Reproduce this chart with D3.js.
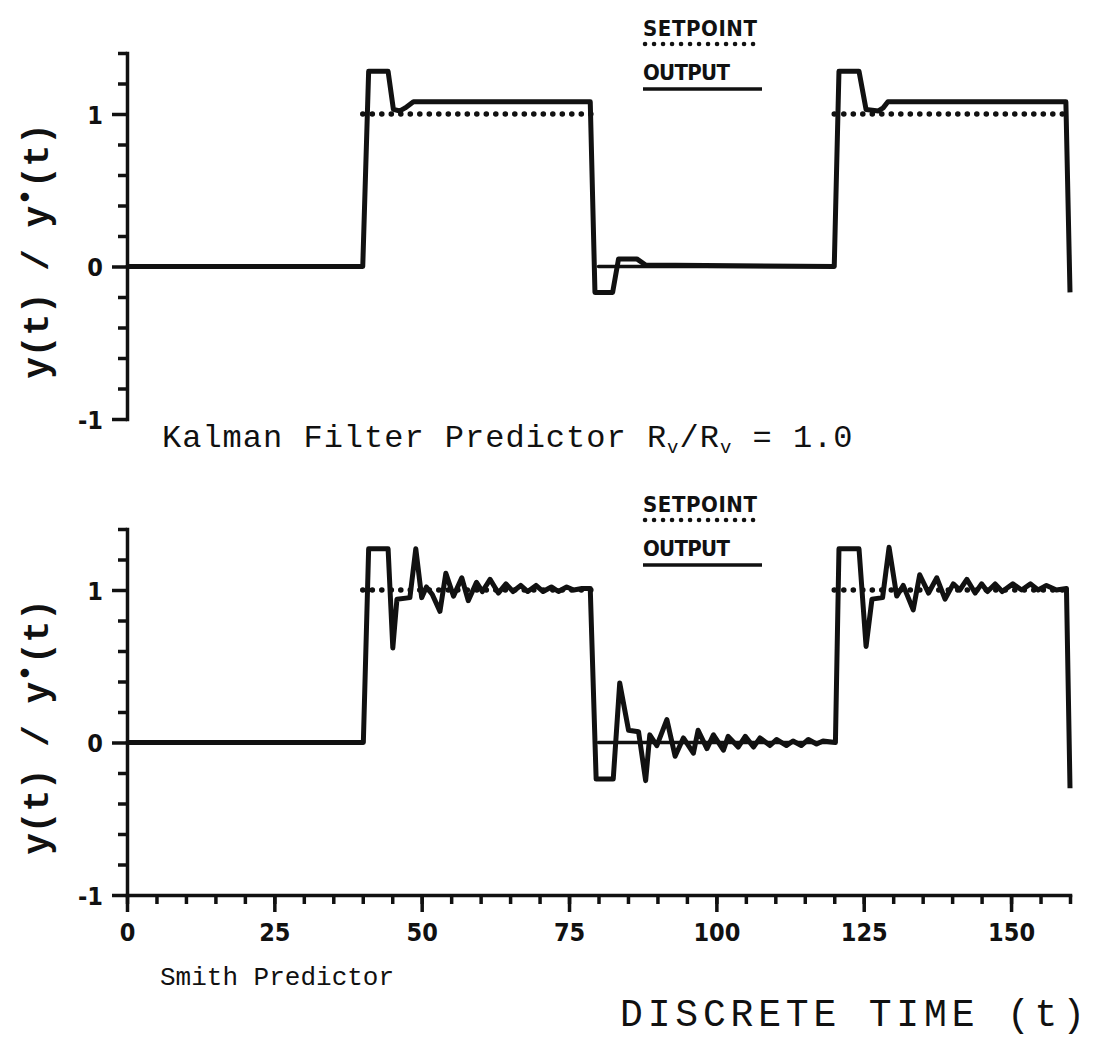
<!DOCTYPE html>
<html>
<head>
<meta charset="utf-8">
<script src="https://cdn.jsdelivr.net/npm/d3@7"></script>
<style>
  body { margin: 0; background: #fff; }
  svg { display: block; }
  .num { font-family: 'Liberation Sans Narrow', 'DejaVu Sans Condensed', sans-serif; font-weight: bold; font-size: 25px; fill: #111; }
  .mono { font-family: 'Liberation Mono', 'DejaVu Sans Mono', monospace; fill: #111; }
  .axis path, .axis line { stroke: #111; stroke-width: 3.5; }
</style>
</head>
<body>
<svg width="1094" height="1046"></svg>
<script>
const timeTicks = [0, 25, 50, 75, 100, 125, 150];
const levelTicks = [-1, 0, 1];
const minorLevelTicks = [-0.8, -0.6, -0.4, -0.2, 0.2, 0.4, 0.6, 0.8, 1.2, 1.4];

// setpoint y*(t): square wave, level held between switch times
const setpointTimes = [0, 40, 80, 120, 160];
const setpointLevels = [0, 1, 0, 1];

// output y(t), Kalman filter predictor
const kalmanOutput = [
  [0, 0], [40, 0], [41, 1.28], [44.3, 1.28], [45.2, 1.03], [46.3, 1.02], [47.2, 1.04], [48.6, 1.08],
  [60, 1.08], [78.6, 1.08], [79.4, -0.17], [82.4, -0.17], [83.4, 0.05], [86.5, 0.05], [88, 0.01],
  [120, 0], [120.8, 1.28], [124.2, 1.28], [125.4, 1.03], [127.5, 1.02], [128.3, 1.04], [129.1, 1.08],
  [159.3, 1.08], [160, -0.17]
];

// output y(t), Smith predictor
const smithOutput = [
  [0, 0], [40.1, 0], [41, 1.27], [44.3, 1.27], [45.1, 0.62], [45.8, 0.94], [48, 0.95], [49, 1.27],
  [50, 0.95], [50.8, 1.02], [51.8, 0.97], [53.1, 0.86], [54.1, 1.11], [55.4, 0.96], [56.8, 1.08],
  [57.9, 0.93], [59.3, 1.05], [60.3, 0.99], [61.6, 1.07], [63, 0.98], [64.3, 1.04], [65.5, 0.99],
  [66.8, 1.03], [68, 0.99], [69.4, 1.03], [70.6, 0.99], [72, 1.02], [73.2, 0.99], [74.6, 1.02],
  [75.8, 1.0], [77.2, 1.01], [78.6, 1.01], [79.6, -0.24], [82.5, -0.24], [83.6, 0.39], [85.1, 0.08],
  [86.8, 0.07], [88, -0.25], [88.7, 0.05], [89.9, -0.02], [91.6, 0.15], [93, -0.09], [94.4, 0.03],
  [96.1, -0.07], [96.9, 0.08], [98.4, -0.04], [99.5, 0.05], [101.2, -0.05], [102, 0.04], [103.7, -0.03],
  [104.9, 0.04], [106.3, -0.03], [107.4, 0.03], [109.1, -0.02], [110.2, 0.02], [111.9, -0.02],
  [113, 0.01], [114.4, -0.02], [115.6, 0.02], [117, -0.01], [118.1, 0.01], [120.2, 0],
  [120.8, 1.27], [124.2, 1.27], [125.4, 0.63], [126.4, 0.94], [128.2, 0.95], [129.3, 1.28],
  [130.6, 0.96], [131.7, 1.03], [133.4, 0.87], [134.5, 1.1], [136, 0.98], [137.4, 1.08], [138.8, 0.94],
  [140.2, 1.04], [141.3, 1.0], [142.5, 1.07], [143.9, 0.98], [145, 1.04], [146, 0.99], [147.3, 1.04],
  [148.5, 0.99], [150.3, 1.04], [151.8, 1.0], [153.3, 1.04], [154.6, 1.0], [156, 1.03], [157.7, 1.0],
  [159.4, 1.01], [160, -0.3]
];

const svg = d3.select('svg');
const ink = '#111';

const x = d3.scaleLinear()
  .domain([0, 160])
  .range([127, 1070]);

const line = d3.line();

function cleanLabels(a) {
  a.selectAll('text')
    .attr('class', 'num')
    .attr('fill', null)
    .style('font-size', null)
    .style('font-family', null);
}

function drawPanel(top, output, withTimeAxis) {
  const y = d3.scaleLinear()
    .domain([-1, 1.4])
    .range([top + 366, top]);
  const g = svg.append('g');
  const path = d3.line().x(d => x(d[0])).y(d => y(d[1]));

  g.append('g')
    .attr('class', 'axis')
    .attr('transform', `translate(${x(0)},0)`)
    .call(d3.axisLeft(y).tickValues(minorLevelTicks).tickSize(9).tickSizeOuter(0).tickFormat(''))
    .call(a => a.selectAll('text').remove());

  g.append('g')
    .attr('class', 'axis')
    .attr('transform', `translate(${x(0)},0)`)
    .call(d3.axisLeft(y).tickValues(levelTicks).tickSize(15).tickSizeOuter(0).tickFormat(d => String(d)))
    .call(a => a.select('.domain').remove())
    .call(cleanLabels)
    .call(a => a.selectAll('text').attr('x', -24).attr('dy', '0.36em'));

  if (withTimeAxis) {
    g.append('g')
      .attr('class', 'axis')
      .attr('transform', `translate(0,${y(-1)})`)
      .call(d3.axisBottom(x).tickValues(d3.range(0, 161, 5)).tickSize(9).tickSizeOuter(0).tickFormat(''))
      .call(a => a.selectAll('text').remove());

    g.append('g')
      .attr('class', 'axis')
      .attr('transform', `translate(0,${y(-1)})`)
      .call(d3.axisBottom(x).tickValues(timeTicks).tickSize(17).tickSizeOuter(0))
      .call(a => a.select('.domain').remove())
      .call(cleanLabels)
      .call(a => a.selectAll('text').attr('y', 28));
  }

  g.selectAll('.domain').attr('stroke-linecap', 'square');

  // setpoint: held levels; the zero level reads as a solid line, the high level as dots
  const levels = setpointLevels.map((v, i) => ({
    v,
    pts: [[setpointTimes[i], v], [setpointTimes[i + 1], v]]
  }));
  g.selectAll('.setpoint')
    .data(levels)
    .enter().append('path')
    .attr('class', 'setpoint')
    .attr('d', d => path(d.pts))
    .attr('fill', 'none')
    .attr('stroke', ink)
    .attr('stroke-width', d => d.v ? 5.5 : 3.5)
    .attr('stroke-linecap', 'round')
    .attr('stroke-dasharray', d => d.v ? '0.1 9.4' : null);

  g.append('path')
    .datum(output)
    .attr('d', path)
    .attr('fill', 'none')
    .attr('stroke', ink)
    .attr('stroke-width', 5)
    .attr('stroke-linejoin', 'round');

  // legend
  const lx = 643;
  g.append('text')
    .attr('class', 'num')
    .attr('x', lx)
    .attr('y', top - 17)
    .attr('textLength', 114)
    .style('font-size', '22px')
    .text('SETPOINT');
  g.append('path')
    .attr('d', line([[lx + 2, top - 9], [lx + 114, top - 9]]))
    .attr('stroke', ink)
    .attr('stroke-width', 4.5)
    .attr('stroke-linecap', 'round')
    .attr('stroke-dasharray', '0.1 8.9');
  g.append('text')
    .attr('class', 'num')
    .attr('x', lx)
    .attr('y', top + 27)
    .attr('textLength', 87)
    .style('font-size', '22px')
    .text('OUTPUT');
  g.append('path')
    .attr('d', line([[lx, top + 36], [lx + 119, top + 36]]))
    .attr('stroke', ink)
    .attr('stroke-width', 3.5);

  // y label
  const label = g.append('text')
    .attr('class', 'mono')
    .attr('transform', `translate(48,${top + 198}) rotate(-90)`)
    .attr('text-anchor', 'middle')
    .style('font-size', '36px')
    .style('font-weight', 'bold');
  label.append('tspan').text('y(t) / y');
  label.append('tspan').attr('dy', -13).style('font-size', '30px').text('•');
  label.append('tspan').attr('dy', 13).text('(t)');
}

drawPanel(53, kalmanOutput, false);
drawPanel(529, smithOutput, true);

const kalmanLabel = svg.append('text')
  .attr('class', 'mono')
  .attr('x', 162)
  .attr('y', 447)
  .style('font-size', '32px')
  .style('letter-spacing', '1px');
kalmanLabel.append('tspan').text('Kalman Filter Predictor R');
kalmanLabel.append('tspan').attr('dy', 6).style('font-size', '19px').text('v');
kalmanLabel.append('tspan').attr('dy', -6).text('/R');
kalmanLabel.append('tspan').attr('dy', 6).style('font-size', '19px').text('v');
kalmanLabel.append('tspan').attr('dy', -6).text(' = 1.0');

svg.append('text')
  .attr('class', 'mono')
  .attr('x', 160)
  .attr('y', 985)
  .style('font-size', '26px')
  .text('Smith Predictor');

svg.append('text')
  .attr('class', 'mono')
  .attr('x', 620)
  .attr('y', 1026)
  .attr('textLength', 465)
  .style('font-size', '38px')
  .text('DISCRETE TIME (t)');
</script>
</body>
</html>
